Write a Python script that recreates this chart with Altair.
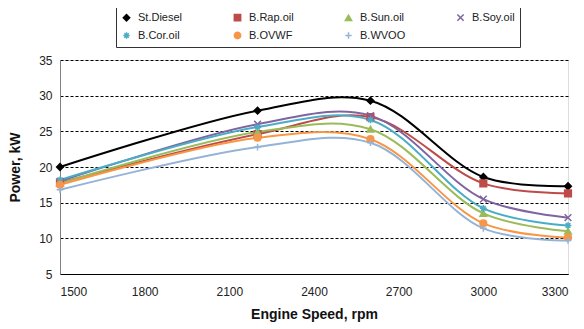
import altair as alt
import pandas as pd

speeds = [1500, 2200, 2600, 3000, 3300]
series_names = ["St.Diesel", "B.Rap.oil", "B.Sun.oil", "B.Soy.oil", "B.Cor.oil", "B.OVWF", "B.WVOO"]
diesel = [20.0, 27.9, 29.3, 18.6, 17.3]
rap = [17.8, 24.6, 27.0, 17.7, 16.3]
sun = [17.7, 24.9, 25.3, 13.5, 11.0]
soy = [18.0, 26.0, 27.2, 15.5, 12.9]
cor = [18.2, 25.6, 26.6, 14.2, 11.8]
ovwf = [17.5, 24.1, 23.9, 12.1, 10.1]
wvoo = [16.8, 22.8, 23.4, 11.4, 9.7]
x_ticks = [1500, 1800, 2100, 2400, 2700, 3000, 3300]
y_ticks = [5, 10, 15, 20, 25, 30, 35]

colors = ["#000000", "#BE4B48", "#9BBB59", "#8064A2", "#4BACC6", "#F79646", "#95B3D7"]
shapes = [
    "diamond",
    "square",
    "triangle-up",
    "M-1,-1L1,1M1,-1L-1,1",
    "M-1,0L1,0M0,-1L0,1M-0.7,-0.7L0.7,0.7M0.7,-0.7L-0.7,0.7",
    "circle",
    "M-1,0L1,0M0,-1L0,1",
]

rows = []
for name, vals in zip(series_names, [diesel, rap, sun, soy, cor, ovwf, wvoo]):
    for s, v in zip(speeds, vals):
        rows.append({"series": name, "speed": s, "power": v})
df = pd.DataFrame(rows)

cscale = alt.Scale(domain=series_names, range=colors)
sscale = alt.Scale(domain=series_names, range=shapes)

x = alt.X("speed:Q", scale=alt.Scale(domain=[1500, 3300], nice=False),
          axis=alt.Axis(values=x_ticks, format="d", title="Engine Speed, rpm", grid=False,
                        ticks=False, labelPadding=12, domainColor="#000000", labelFontSize=12,
                        labelColor="#222222", titleFontSize=14, titleFontWeight="bold",
                        titlePadding=10, titleColor="#111111"))
y = alt.Y("power:Q", scale=alt.Scale(domain=[5, 35], nice=False),
          axis=alt.Axis(values=y_ticks, title="Power, kW", grid=True, gridColor="#000000",
                        gridDash=[3, 2], gridWidth=1, ticks=False, labelPadding=8,
                        domainColor="#808080", labelFontSize=12, labelColor="#222222",
                        titleFontSize=14, titleFontWeight="bold", titlePadding=16,
                        titleColor="#111111"))

legend = alt.Legend(title=None, orient="none", legendX=56, legendY=-53, columns=4,
                    direction="horizontal",
                    strokeColor="#333333", padding=5, columnPadding=48, rowPadding=5,
                    labelFontSize=11, labelColor="#222222", symbolSize=40, labelOffset=6,
                    symbolStrokeWidth=1.5, fillColor="#ffffff")

base = alt.Chart(df)
lines = base.mark_line(interpolate="catmull-rom", strokeWidth=2).encode(
    x=x, y=y, color=alt.Color("series:N", scale=cscale, legend=None), detail="series:N")
points = base.mark_point(filled=True, size=45, strokeWidth=1.5, opacity=1).encode(
    x=x, y=y,
    fill=alt.Fill("series:N", scale=cscale, legend=legend, sort=series_names),
    stroke=alt.Stroke("series:N", scale=cscale, legend=legend, sort=series_names),
    shape=alt.Shape("series:N", scale=sscale, legend=legend, sort=series_names),
)

chart = alt.layer(lines, points).properties(
    width=508, height=214,
    autosize=alt.AutoSizeParams(type="none"),
    padding={"left": 52, "top": 52, "right": 8, "bottom": 55},
).configure_view(stroke="#808080", strokeWidth=1).configure(
    font="Liberation Sans"
).resolve_scale(color="independent")

chart.save("out.html", embed_options={"renderer": "svg", "actions": False})
